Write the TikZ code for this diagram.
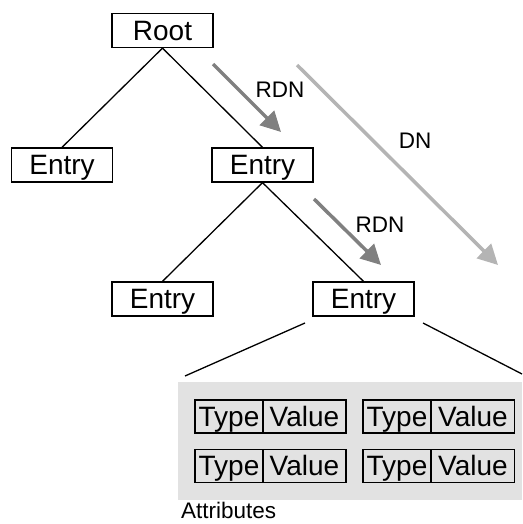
\documentclass[tikz,border=0pt]{standalone}
\usepackage{fontspec}
\setmainfont{Liberation Sans}
\usetikzlibrary{arrows.meta}
\definecolor{rdngray}{HTML}{808080}
\definecolor{dngray}{HTML}{B4B4B4}
\definecolor{attrbg}{HTML}{E2E2E2}

\begin{document}
\begin{tikzpicture}[x=1pt,y=-1pt,
  box/.style={draw=black, line width=1.3pt, inner sep=0pt, minimum height=34pt,
    text height=19.5pt, text depth=0pt, font=\fontsize{28}{30}\selectfont},
  entrybox/.style={box, minimum width=101pt},
  typebox/.style={box, minimum width=68pt, minimum height=33pt},
  valuebox/.style={box, minimum width=83pt, minimum height=33pt},
  edge/.style={line width=1.3pt},
  rdn/.style={draw=rdngray, line width=3.5pt, -{Triangle[length=20pt,width=20pt]}},
  dn/.style={draw=dngray, line width=3.5pt, -{Triangle[length=20pt,width=20pt]}},
  lab/.style={font=\fontsize{22.5}{24}\selectfont, inner sep=0pt}
]
\useasboundingbox (0,0) rectangle (522,524);

% attribute panel
\fill[attrbg] (178,382) rectangle (522,500);

% directory tree
\node[entrybox] (root) at (162.5,30.5) {Root};
\node[entrybox] (e1) at (62,165) {Entry};
\node[entrybox] (e2) at (262.5,165) {Entry};
\node[entrybox] (e3) at (162.5,299) {Entry};
\node[entrybox] (e4) at (363.5,299) {Entry};

\draw[edge] (root.south) -- (e1.north);
\draw[edge] (root.south) -- (e2.north);
\draw[edge] (e2.south) -- (e3.north);
\draw[edge] (e2.south) -- (e4.north);

% fan from the entry to its attributes
\coordinate (fanLa) at (305,323);
\coordinate (fanLb) at (185,376);
\coordinate (fanRa) at (423,323);
\coordinate (fanRb) at (522,374);
\draw[edge] (fanLa) -- (fanLb);
\draw[edge] (fanRa) -- (fanRb);

% type/value pairs
\node[typebox] (t1) at (229,416.5) {Type};
\node[valuebox] (v1) at (304.5,416.5) {Value};
\node[typebox] (t2) at (397,416.5) {Type};
\node[valuebox] (v2) at (473,416.5) {Value};
\node[typebox] (t3) at (229,466) {Type};
\node[valuebox] (v3) at (304.5,466) {Value};
\node[typebox] (t4) at (397,466) {Type};
\node[valuebox] (v4) at (473,466) {Value};

\node[lab, anchor=base west] (attr) at (181,518) {Attributes};

% name arrows
\coordinate (rdnAs) at (213,64);
\coordinate (rdnAe) at (281,132);
\coordinate (rdnBs) at (314,199);
\coordinate (rdnBe) at (381,265);
\coordinate (dnS) at (297,65);
\coordinate (dnE) at (498,265);
\draw[rdn] (rdnAs) -- (rdnAe);
\draw[rdn] (rdnBs) -- (rdnBe);
\draw[dn] (dnS) -- (dnE);

\node[lab] (rdnA) at (280,90) {RDN};
\node[lab] (rdnB) at (380,225) {RDN};
\node[lab] (dnlab) at (415,141) {DN};
\end{tikzpicture}
\end{document}
